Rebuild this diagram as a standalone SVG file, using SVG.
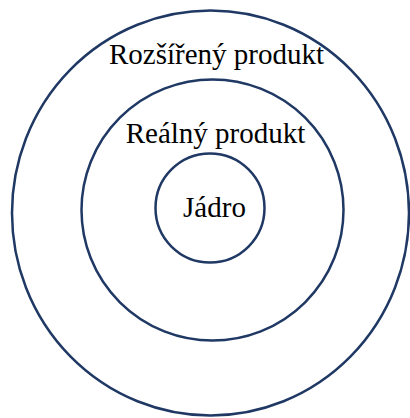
<svg xmlns="http://www.w3.org/2000/svg" width="410" height="418" viewBox="0 0 410 418">
<style>
.ring{fill:none;stroke:#1f3864;stroke-width:2.5}
.lbl{font-size:29px;fill:#000;text-anchor:middle}
</style>
<rect width="410" height="418" fill="#fff"/>
<g id="outer">
<ellipse class="ring" cx="210.5" cy="213" rx="198.5" ry="202.5"/>
<text class="lbl" font-family="'Liberation Serif', 'DejaVu Serif', serif" x="216.5" y="64">Rozšířený produkt</text>
</g>
<g id="middle">
<ellipse class="ring" cx="212.5" cy="210" rx="131" ry="130.5"/>
<text class="lbl" font-family="'Liberation Serif', 'DejaVu Serif', serif" x="215.5" y="143">Reálný produkt</text>
</g>
<g id="core">
<circle class="ring" cx="210" cy="208" r="54.5"/>
<text class="lbl" font-family="'Liberation Serif', 'DejaVu Serif', serif" x="214.5" y="217">Jádro</text>
</g>
<g id="connectors"/>
</svg>
